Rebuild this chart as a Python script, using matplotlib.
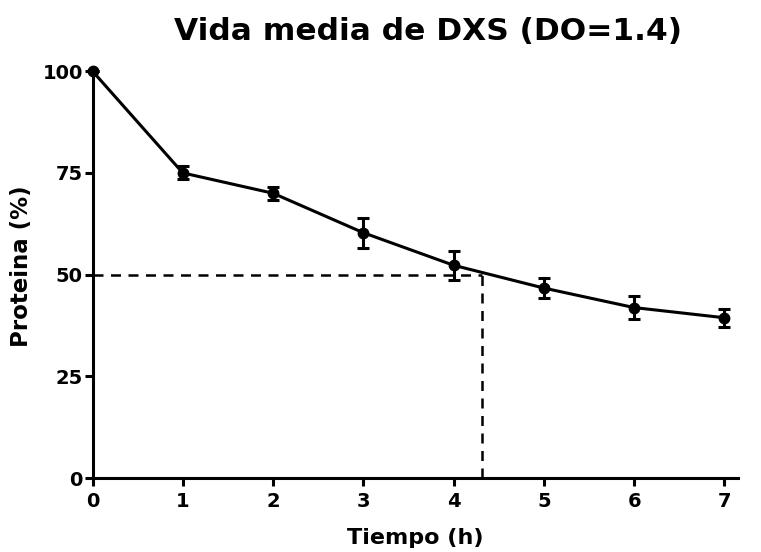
import matplotlib
matplotlib.use("Agg")
import matplotlib.pyplot as plt

tiempo = [0, 1, 2, 3, 4, 5, 6, 7]
proteina = [100, 75.0, 70.0, 60.3, 52.3, 46.7, 41.9, 39.4]
error = [0, 1.6, 1.6, 3.7, 3.5, 2.4, 2.9, 2.2]
half_life = 4.31
half_value = 50
xticks = [0, 1, 2, 3, 4, 5, 6, 7]
yticks = [0, 25, 50, 75, 100]

plt.rcParams['font.family'] = ['DejaVu Sans']
fig = plt.figure(figsize=(7.61, 5.52), dpi=100)
ax = fig.add_axes([0.1216, 0.134, 0.848, 0.737])

ax.errorbar(tiempo, proteina, yerr=error, color='black', lw=2.2, marker='o',
            markersize=7.5, capsize=4.5, capthick=2.2, elinewidth=2.2, clip_on=False, zorder=3)
ax.plot([0, half_life], [half_value, half_value], ls=(0, (4, 3)), color='black', lw=1.8)
ax.plot([half_life, half_life], [0, half_value], ls=(0, (4, 3)), color='black', lw=1.8)

ax.set_xlim(0, 7.15)
ax.set_ylim(0, 100)
ax.set_xticks(xticks)
ax.set_yticks(yticks)
for s in ['top', 'right']:
    ax.spines[s].set_visible(False)
for s in ['left', 'bottom']:
    ax.spines[s].set_linewidth(2.2)
ax.tick_params(width=2.2, length=6, labelsize=14)
ax.tick_params(axis='y', pad=1)
ax.tick_params(axis='x', pad=4)
for lab in ax.get_xticklabels() + ax.get_yticklabels():
    lab.set_fontweight('bold')

ax.set_xlabel('Tiempo (h)', fontsize=16, fontweight='bold', labelpad=12)
ax.set_ylabel('Proteina (%)', fontsize=16.5, fontweight='bold')
ax.yaxis.set_label_coords(-0.093, 0.52)
fig.text(0.563, 0.943, 'Vida media de DXS (DO=1.4)', fontsize=22.5, fontweight='bold',
         ha='center', va='center')

fig.savefig('out.png', dpi=100)
